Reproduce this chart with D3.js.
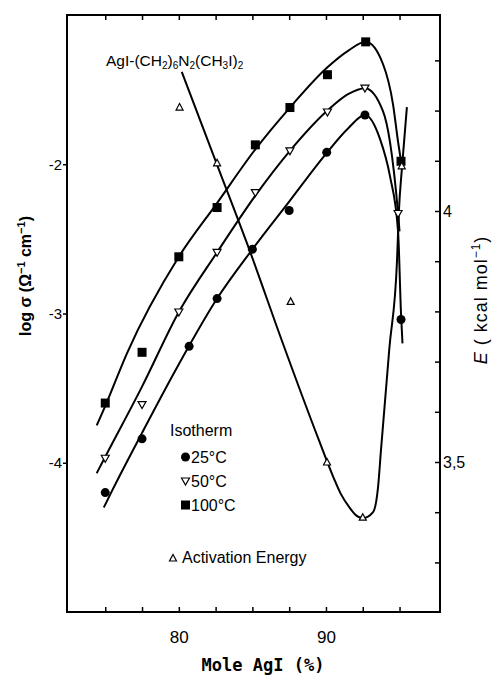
<!DOCTYPE html>
<html><head><meta charset="utf-8">
<script src="https://cdn.jsdelivr.net/npm/d3@7"></script>
<style>body{margin:0;background:#fff}svg{display:block}</style>
</head><body><svg id="c" width="492" height="675"></svg>
<script>
// ---- data ----
const xTicks = [75, 77.5, 80, 82.5, 85, 87.5, 90, 92.5, 95];
const xTickLabels = {80: "80", 90: "90"};
const yLeftTicks = [-4, -3, -2];
const yLeftLabels = ["-4", "-3", "-2"];
const yRightTicks = [3.3, 3.4, 3.5, 3.6, 3.7, 3.8, 3.9, 4.0, 4.1, 4.2, 4.3];
const yRightLabels = {"3.5": "3,5", "4": "4"};

// measured points
const pts25 = [[75, -4.20], [77.5, -3.84], [80.7, -3.22], [82.6, -2.90], [85, -2.57], [87.5, -2.31], [90.05, -1.92], [92.65, -1.67], [95.1, -3.04]];
const pts50 = [[75, -3.97], [77.5, -3.61], [80, -2.99], [82.6, -2.59], [85.2, -2.19], [87.55, -1.91], [90.1, -1.65], [92.65, -1.49], [94.9, -2.33]];
const pts100 = [[75, -3.60], [77.5, -3.26], [80, -2.62], [82.6, -2.29], [85.2, -1.87], [87.55, -1.62], [90.1, -1.40], [92.7, -1.18], [95.1, -1.98]];
const ptsE = [[80.05, 4.207], [82.6, 4.096], [87.6, 3.82], [90.07, 3.50], [92.5, 3.39], [95.15, 4.09]];

// fitted curves
const fit25 = [[74.9, -4.30], [75.5, -4.18], [77.5, -3.80], [80, -3.34], [82.6, -2.90], [85, -2.57], [87.5, -2.25], [90, -1.93], [91.5, -1.76], [92.65, -1.67], [93.67, -1.83], [94.35, -2.08], [94.9, -2.45], [95.1, -3.0], [95.2, -3.2]];
const fit50 = [[74.42, -4.07], [75, -3.96], [77.5, -3.49], [80, -2.99], [82.6, -2.59], [85.2, -2.21], [87.55, -1.91], [90.1, -1.64], [91.5, -1.53], [92.65, -1.49], [93.88, -1.645], [94.35, -1.85], [94.9, -2.33], [95.0, -2.45]];
const fit100 = [[74.42, -3.75], [75, -3.62], [76.46, -3.27], [80, -2.62], [82.6, -2.26], [85.2, -1.90], [87.55, -1.62], [90.1, -1.35], [91.5, -1.24], [92.7, -1.18], [93.88, -1.33], [94.56, -1.60], [94.9, -1.85], [95.1, -1.98]];
const fitE = [[80.2, 4.277], [82.6, 4.092], [84.83, 3.92], [87.0, 3.742], [89.5, 3.545], [90.5, 3.47], [91.0, 3.437], [91.63, 3.408], [92.0, 3.395], [92.52, 3.388], [93.2, 3.40], [93.54, 3.45], [93.74, 3.524], [94.31, 3.727], [94.83, 3.902], [94.95, 3.996], [95.17, 4.088], [95.5, 4.207]];

const legendItems = [["circle", "25°C"], ["tdown", "50°C"], ["square", "100°C"]];

// ---- drawing ----
const svg = d3.select("#c");
const L = 67, R = 440, T = 15, B = 612;
const x = d3.scaleLinear().domain([72.4, 97.75]).range([L, R]);
const yL = d3.scaleLinear().domain([-5, -1]).range([B, T]);
const yR = d3.scaleLinear().domain([3.2012, 4.3904]).range([B, T]);
const FONT = "'Liberation Sans', Arial, sans-serif";

// frame
svg.append("rect").attr("x", L).attr("y", T).attr("width", R - L).attr("height", B - T)
  .attr("fill", "none").attr("stroke", "#000").attr("stroke-width", 2);

// axes
const bottom = d3.axisBottom(x).tickValues(xTicks).tickSize(-5).tickFormat(d => xTickLabels[d] || "");
const gB = svg.append("g").attr("transform", `translate(0,${B})`).call(bottom);
const gT = svg.append("g").attr("transform", `translate(0,${T})`).call(d3.axisTop(x).tickValues(xTicks).tickSize(-5).tickFormat(""));
const gL = svg.append("g").attr("transform", `translate(${L},0)`).call(
  d3.axisLeft(yL).tickValues(yLeftTicks).tickSize(4).tickFormat((d, i) => yLeftLabels[i]));
const gR = svg.append("g").attr("transform", `translate(${R},0)`).call(
  d3.axisRight(yR).tickValues(yRightTicks).tickSize(-5).tickFormat(d => yRightLabels[String(+d.toFixed(1))] || ""));
[gB, gT, gL, gR].forEach(g => {
  g.select(".domain").remove();
  g.selectAll(".tick line").attr("stroke", "#000").attr("stroke-width", 1.5);
  g.selectAll("text").attr("fill", "#000").style("font-family", FONT);
});
gB.selectAll("text").style("font-size", "17px").attr("dy", "0").attr("y", 31);
gL.selectAll("text").style("font-size", "15px").attr("x", -5);
gR.selectAll("text").style("font-size", "16px").attr("x", 3);

// curves
const line = (ys) => d3.line().x(d => x(d[0])).y(d => ys(d[1])).curve(d3.curveMonotoneX);
[fit25, fit50, fit100].forEach(f => {
  svg.append("path").attr("d", line(yL)(f)).attr("fill", "none").attr("stroke", "#000").attr("stroke-width", 2);
});
svg.append("path").attr("d", line(yR)(fitE)).attr("fill", "none").attr("stroke", "#000").attr("stroke-width", 2);

// markers
function marker(g, type, cx, cy) {
  if (type === "circle") g.append("circle").attr("cx", cx).attr("cy", cy).attr("r", 4.5).attr("fill", "#000");
  else if (type === "square") g.append("rect").attr("x", cx - 4.5).attr("y", cy - 4.5).attr("width", 9).attr("height", 9).attr("fill", "#000");
  else if (type === "tdown") g.append("path").attr("d", `M${cx - 4},${cy - 3}L${cx + 4},${cy - 3}L${cx},${cy + 4}Z`)
    .attr("fill", "#fff").attr("stroke", "#000").attr("stroke-width", 1.2);
  else if (type === "tup") g.append("path").attr("d", `M${cx - 3.5},${cy + 3}L${cx + 3.5},${cy + 3}L${cx},${cy - 3.5}Z`)
    .attr("fill", "#fff").attr("stroke", "#000").attr("stroke-width", 1.2);
}
const gm = svg.append("g");
pts25.forEach(d => marker(gm, "circle", x(d[0]), yL(d[1])));
pts50.forEach(d => marker(gm, "tdown", x(d[0]), yL(d[1])));
pts100.forEach(d => marker(gm, "square", x(d[0]), yL(d[1])));
ptsE.forEach(d => marker(gm, "tup", x(d[0]), yR(d[1])));

// compound label
const lab = svg.append("text").attr("x", 106).attr("y", 66).style("font-family", FONT).style("font-size", "15.5px");
const parts = [["AgI-(CH", 0], ["2", 1], [")", 0], ["6", 1], ["N", 0], ["2", 1], ["(CH", 0], ["3", 1], ["I)", 0], ["2", 1]];
parts.forEach(([t, s]) => {
  const ts = lab.append("tspan").text(t);
  if (s) ts.attr("baseline-shift", "-25%").style("font-size", "10px");
});

// legend
svg.append("text").attr("x", 170).attr("y", 436).text("Isotherm").style("font-family", FONT).style("font-size", "16px");
legendItems.forEach(([t, lbl], i) => {
  const cy = 457 + i * 24;
  marker(svg, t, 185.5, cy);
  svg.append("text").attr("x", 191).attr("y", cy + 6).text(lbl).style("font-family", FONT).style("font-size", "16px");
});
marker(svg, "tup", 173, 558);
svg.append("text").attr("x", 182).attr("y", 563).text("Activation Energy").style("font-family", FONT).style("font-size", "16px");

// axis titles
svg.append("text").attr("x", 263).attr("y", 671).attr("text-anchor", "middle")
  .style("font-family", "'DejaVu Sans Mono', monospace").style("font-weight", "bold").style("font-size", "17px")
  .text("Mole AgI (%)");
const lt = svg.append("text").attr("transform", "translate(31,276) rotate(-90)").attr("text-anchor", "middle")
  .style("font-family", FONT).style("font-weight", "bold").style("font-size", "16px");
lt.append("tspan").text("log σ (Ω");
lt.append("tspan").text("−1").attr("baseline-shift", "super").style("font-size", "11px");
lt.append("tspan").text(" cm");
lt.append("tspan").text("−1").attr("baseline-shift", "super").style("font-size", "11px");
lt.append("tspan").text(")");
const rt = svg.append("text").attr("transform", "translate(487,300) rotate(-90)").attr("text-anchor", "middle")
  .style("font-family", FONT).style("font-size", "18px").style("letter-spacing", "1px");
rt.append("tspan").text("E").style("font-style", "italic");
rt.append("tspan").text(" ( kcal mol");
rt.append("tspan").text("−1").attr("baseline-shift", "super").style("font-size", "12px");
rt.append("tspan").text(")");
</script></body></html>
